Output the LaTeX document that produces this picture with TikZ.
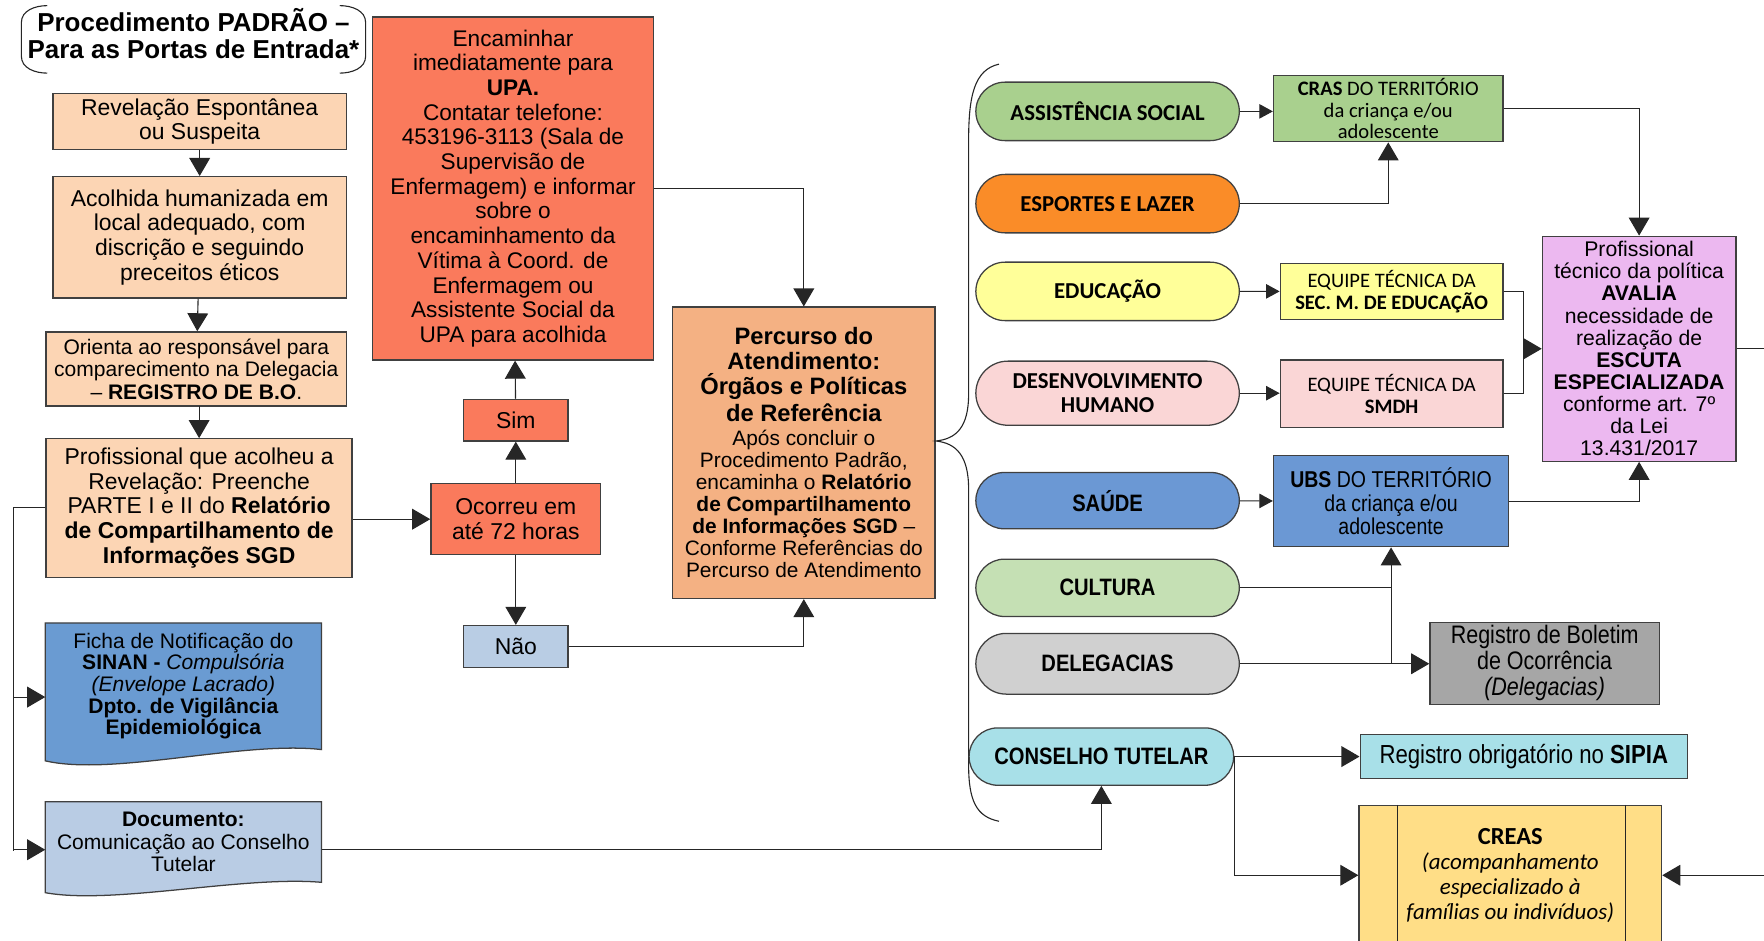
\documentclass[tikz,border=0pt]{standalone}
\usepackage{fontspec}
\setmainfont{Liberation Sans}
\newfontfamily\calib{Carlito}
\newfontfamily\narrow[FakeStretch=0.85]{Liberation Sans}
\usetikzlibrary{arrows.meta,shapes.misc,backgrounds}

\definecolor{peach}{RGB}{252,213,180}
\definecolor{upared}{RGB}{250,122,92}
\definecolor{naoblue}{RGB}{185,205,228}
\definecolor{percorange}{RGB}{244,177,131}
\definecolor{fichablue}{RGB}{106,155,210}
\definecolor{docblue}{RGB}{185,204,228}
\definecolor{socgreen}{RGB}{169,208,142}
\definecolor{sportorange}{RGB}{250,140,40}
\definecolor{eduyellow}{RGB}{255,255,153}
\definecolor{dhpink}{RGB}{250,214,214}
\definecolor{saudeblue}{RGB}{107,152,212}
\definecolor{cultgreen}{RGB}{197,224,180}
\definecolor{lgrey}{RGB}{208,208,208}
\definecolor{dgrey}{RGB}{166,166,166}
\definecolor{ctcyan}{RGB}{168,224,232}
\definecolor{creasyellow}{RGB}{255,222,135}
\definecolor{avalviolet}{RGB}{236,184,240}

\newcommand{\fsz}[2]{\fontsize{#1}{#2}\selectfont}
\newcommand{\ptitle}[1]{{\bfseries\fsz{15}{16.3}#1}}

\begin{document}
\begin{tikzpicture}[x=0.025cm,y=-0.025cm,
  sz/.style 2 args={minimum width=#1*0.025cm,minimum height=#2*0.025cm},
  box/.style={draw=black!75,line width=0.8pt,align=center,inner sep=1pt},
  pill/.style={box,rounded rectangle,font=\calib\bfseries\fsz{14.4}{15}},
  npill/.style={box,rounded rectangle,font=\narrow\bfseries\fsz{15}{16}},
  docbody/.style={align=center,inner sep=1pt},
  docedge/.style={draw=black!75,line width=0.8pt},
  txta/.style={font=\fsz{14.5}{15.6}},
  txtb/.style={font=\fsz{13.3}{14.2}},
  wire/.style={draw=black!85,line width=0.7pt},
  conn/.style={wire,-{Triangle[length=0.4cm,width=0.46cm]}},
  sconn/.style={wire,-{Triangle[length=0.3cm,width=0.32cm]}}]
\useasboundingbox (0,0) rectangle (1568,836);

% left column
\node[font=\bfseries\fsz{16.4}{17.2},align=center] (title) at (172,30) {Procedimento PADRÃO --\\Para as Portas de Entrada*};
\draw[wire] (42,5) to[out=180,in=90] (19,20) -- (19,50) to[out=-90,in=180] (42,65);
\draw[wire] (302,5) to[out=0,in=90] (325,20) -- (325,50) to[out=-90,in=0] (302,65);

\node[box,txta,fill=peach,sz={261}{50}] (rev) at (177.5,108) {Revelação Espontânea\\ou Suspeita};
\node[box,txta,fill=peach,sz={261}{108}] (acol) at (177.5,211) {Acolhida humanizada em\\local adequado, com\\discrição e seguindo\\preceitos éticos};
\node[box,txtb,fill=peach,sz={267}{66}] (orient) at (174.5,328) {Orienta ao responsável para\\comparecimento na Delegacia\\-- \textbf{REGISTRO DE B.O}.};
\node[box,txta,fill=peach,sz={272}{123}] (prof) at (177,451.5) {Profissional que acolheu a\\Revelação: Preenche\\PARTE I e II do \textbf{Relatório}\\\textbf{de Compartilhamento de}\\\textbf{Informações SGD}};
\node[docbody,font=\fsz{13.3}{13.7},sz={245}{112}] (ficha) at (163,610) {Ficha de Notificação do\\\textbf{SINAN -} \textit{Compulsória}\\\textit{(Envelope Lacrado)}\\\textbf{Dpto. de Vigilância}\\\textbf{Epidemiológica}};
\node[docbody,txtb,sz={245}{71}] (doc) at (163,748.5) {\textbf{Documento:}\\Comunicação ao Conselho\\Tutelar};
\begin{scope}[on background layer]
\path[docedge,fill=fichablue] (ficha.north west) -- (ficha.north east) -- (ficha.south east) .. controls +(-70,-8) and +(60,14) .. ([yshift=-0.25cm]ficha.south west) -- cycle;
\path[docedge,fill=docblue] (doc.north west) -- (doc.north east) -- (doc.south east) .. controls +(-70,-6) and +(60,11) .. ([yshift=-0.23cm]doc.south west) -- cycle;
\end{scope}

\draw[conn] (rev) -- (acol);
\draw[conn] (acol) -- (orient);
\draw[conn] (orient) -- (prof.north |- orient.south) -- (prof.north);
\coordinate (lft) at (12,0);
\draw[wire] (prof.west) -- (prof.west -| lft) -- (lft |- doc.west) -- ++(0,8);
\draw[conn] ([yshift=-0.24cm]ficha.west -| lft) -- ([yshift=-0.24cm]ficha.west);
\draw[conn] ([yshift=-0.17cm]doc.west -| lft) -- ([yshift=-0.17cm]doc.west);

% middle column
\node[box,font=\fsz{14.3}{15.6},fill=upared,sz={250}{305}] (upa) at (456,167.5) {Encaminhar\\imediatamente para\\\textbf{UPA.}\\Contatar telefone:\\453196-3113 (Sala de\\Supervisão de\\Enfermagem) e informar\\sobre o\\encaminhamento da\\Vítima à Coord. de\\Enfermagem ou\\Assistente Social da\\UPA para acolhida};
\node[box,txta,fill=upared,sz={93}{37}] (sim) at (458.5,373.5) {Sim};
\node[box,txta,fill=upared,sz={151}{63}] (ocor) at (458.5,461.5) {Ocorreu em\\até 72 horas};
\node[box,txta,fill=naoblue,sz={93}{37}] (nao) at (458.5,574.5) {Não};
\node[box,font=\fsz{13.2}{13.9},fill=percorange,sz={233}{259}] (perc) at (714.5,402.5) {\ptitle{Percurso do}\\[1.8pt]\ptitle{Atendimento:}\\[1.8pt]\ptitle{Órgãos e Políticas}\\[1.8pt]\ptitle{de Referência}\\[1.5pt]Após concluir o\\Procedimento Padrão,\\encaminha o \textbf{Relatório}\\\textbf{de Compartilhamento}\\\textbf{de Informações SGD} --\\Conforme Referências do\\Percurso de Atendimento};

\draw[conn] (prof.east |- ocor.west) -- (ocor.west);
\draw[conn] (ocor) -- (sim);
\draw[conn] (sim) -- (upa);
\draw[conn] (ocor) -- (nao);
\draw[conn] (nao.east) -| (perc.south);
\draw[conn] (upa.east) -| (perc.north);

% brace
\draw[wire] (888,57) .. controls (866,62) and (861,85) .. (861,125) -- (861,350) .. controls (861,380) and (850,390) .. (832,392) .. controls (850,394) and (861,405) .. (861,435) -- (861,680) .. controls (861,712) and (868,726) .. (888,730);

% policies
\node[pill,fill=socgreen,sz={237}{52}] (assist) at (984.5,99) {ASSISTÊNCIA SOCIAL};
\node[pill,fill=sportorange,sz={237}{52}] (esport) at (984.5,181) {ESPORTES E LAZER};
\node[pill,fill=eduyellow,sz={237}{52}] (educ) at (984.5,259) {EDUCAÇÃO};
\node[pill,fill=dhpink,sz={237}{57}] (desenv) at (984.5,349.5) {DESENVOLVIMENTO\\HUMANO};
\node[npill,fill=saudeblue,sz={237}{50}] (saude) at (984.5,445) {SAÚDE};
\node[npill,fill=cultgreen,sz={237}{51}] (cult) at (984.5,522.5) {CULTURA};
\node[npill,fill=lgrey,sz={237}{54}] (deleg) at (984.5,590) {DELEGACIAS};
\node[npill,fill=ctcyan,sz={238}{51}] (conselho) at (979,672.5) {CONSELHO TUTELAR};

\node[box,font=\calib\fsz{13}{13.8},fill=socgreen,sz={204}{59}] (cras) at (1234,96.5) {\textbf{CRAS} DO TERRITÓRIO\\da criança e/ou\\adolescente};
\node[box,font=\calib\fsz{13}{14.2},fill=eduyellow,sz={198}{50}] (eqsec) at (1237,259) {EQUIPE TÉCNICA DA\\\textbf{SEC. M. DE EDUCAÇÃO}};
\node[box,font=\calib\fsz{13}{14.2},fill=dhpink,sz={198}{60}] (eqsmdh) at (1237,350) {EQUIPE TÉCNICA DA\\\textbf{SMDH}};
\node[box,font=\narrow\fsz{14.5}{14.6},fill=saudeblue,sz={209}{81}] (ubs) at (1236.5,445.5) {\textbf{UBS} DO TERRITÓRIO\\da criança e/ou\\adolescente};
\node[box,font=\narrow\fsz{16}{16.3},fill=dgrey,sz={204}{73}] (bolet) at (1373,589.5) {Registro de Boletim\\de Ocorrência\\\textit{(Delegacias)}};
\node[box,font=\narrow\fsz{16.5}{17},fill=ctcyan,sz={291}{39}] (sipia) at (1354.5,672.5) {Registro obrigatório no \textbf{SIPIA}};
\node[box,font=\calib\fsz{14.5}{15.8},fill=creasyellow,sz={269}{124}] (creas) at (1342.5,778) {{\bfseries\fsz{15.5}{17}CREAS}\\\textit{(acompanhamento}\\\textit{especializado à}\\\textit{famílias ou indivíduos)}};
\draw[wire] ([xshift=0.875cm]creas.north west) -- ([xshift=0.875cm]creas.south west);
\draw[wire] ([xshift=-0.825cm]creas.north east) -- ([xshift=-0.825cm]creas.south east);
\node[box,font=\fsz{13.4}{14},fill=avalviolet,sz={172}{200}] (aval) at (1457,310) {Profissional\\técnico da política\\\textbf{AVALIA}\\necessidade de\\realização de\\\textbf{ESCUTA}\\\textbf{ESPECIALIZADA}\\conforme art. 7º\\da Lei\\13.431/2017};

\draw[sconn] (assist.east) -- (assist.east -| cras.west);
\draw[conn] (esport.east) -| (cras.south);
\draw[conn] (cras.east) -| (aval.north);
\draw[sconn] (educ) -- (eqsec);
\draw[sconn] (desenv.east) -- (desenv.east -| eqsmdh.west);
\coordinate (jn) at (1354,310);
\draw[wire] (eqsec.east) -| (jn);
\draw[wire] (eqsmdh.east) -| (jn);
\draw[conn] (jn) -- (aval.west);
\draw[sconn] (saude) -- (ubs);
\draw[conn] (ubs.east) -| (aval.south);
\draw[wire] (cult.east) -- (cult.east -| ubs.south);
\draw[conn] (deleg.east -| ubs.south) -- (ubs.south);
\draw[conn] (deleg.east) -- (deleg.east -| bolet.west);
\draw[conn] (conselho.east) -- (conselho.east -| sipia.west);
\draw[conn] (conselho.east) |- (creas.west);
\draw[conn] ([yshift=-0.17cm]doc.east) -| (conselho.south);
\coordinate (redge) at (1575,0);
\draw[conn] (aval.east) -| (redge |- creas.east) -- (creas.east);
\end{tikzpicture}
\end{document}
